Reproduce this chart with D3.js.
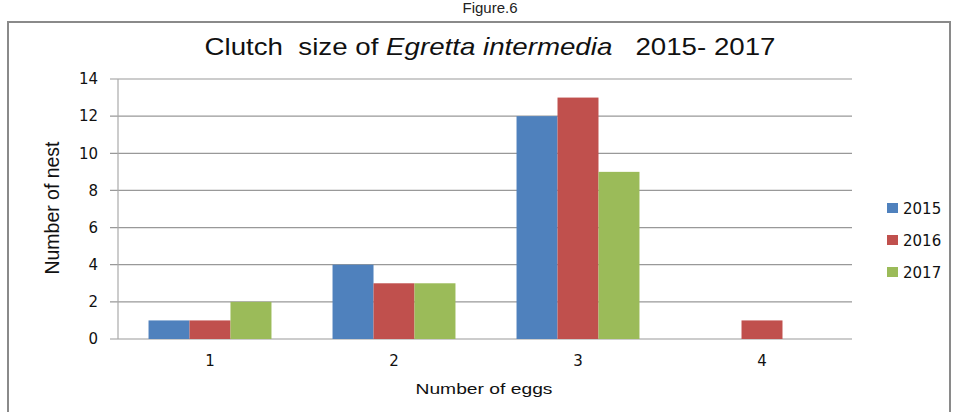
<!DOCTYPE html>
<html>
<head>
<meta charset="utf-8">
<script src="https://cdn.jsdelivr.net/npm/d3@7/dist/d3.min.js"></script>
<style>
  html, body { margin: 0; padding: 0; background: #fff; }
  svg { display: block; }
</style>
</head>
<body>
<svg id="chart" width="957" height="412"></svg>
<script>
// Clutch size counts per year
const categories = ["1", "2", "3", "4"];
const years = ["2015", "2016", "2017"];
const values2015 = [1, 4, 12, 0];
const values2016 = [1, 3, 13, 1];
const values2017 = [2, 3, 9, 0];
const yTicks = [0, 2, 4, 6, 8, 10, 12, 14];
const colors = ["#4F81BD", "#C0504D", "#9BBB59"];

const seriesValues = [values2015, values2016, values2017];

const svg = d3.select("#chart");
const plot = { left: 118, right: 854, top: 79, bottom: 339 };

// Outer frame and figure caption
svg.append("text")
  .attr("x", 490).attr("y", 13)
  .attr("text-anchor", "middle")
  .attr("font-family", "Liberation Sans, Arial, sans-serif")
  .attr("font-size", 15)
  .attr("fill", "#222")
  .text("Figure.6");

svg.append("rect")
  .attr("x", 8).attr("y", 22)
  .attr("width", 942).attr("height", 400)
  .attr("fill", "none")
  .attr("stroke", "#8a8a8a")
  .attr("stroke-width", 2);

const x0 = d3.scaleBand().domain(categories).range([plot.left, plot.right]).paddingInner(0).paddingOuter(0);
const x1 = d3.scaleBand().domain(years).range([0, x0.bandwidth()]).paddingInner(0).paddingOuter(0.745);
const y = d3.scaleLinear().domain([0, 14]).range([plot.bottom, plot.top]);

// Horizontal gridlines
svg.append("g")
  .selectAll("line")
  .data(yTicks)
  .join("line")
  .attr("x1", plot.left - 8).attr("x2", plot.right - 2)
  .attr("y1", d => y(d)).attr("y2", d => y(d))
  .attr("stroke", "#999")
  .attr("stroke-width", 1.2);

// Vertical axis line
svg.append("line")
  .attr("x1", plot.left).attr("x2", plot.left)
  .attr("y1", plot.top).attr("y2", plot.bottom)
  .attr("stroke", "#aaa").attr("stroke-width", 1.2);

// Y tick labels
const yAxis = d3.axisLeft(y).tickValues(yTicks).tickSize(0).tickPadding(20);
const gy = svg.append("g").attr("transform", `translate(${plot.left},0)`).call(yAxis);
gy.select(".domain").remove();
gy.selectAll("text")
  .attr("font-family", "DejaVu Sans, Verdana, sans-serif")
  .attr("font-size", 15)
  .attr("fill", "#111");

// X tick labels
const xAxis = d3.axisBottom(x0).tickSize(0).tickPadding(16);
const gx = svg.append("g").attr("transform", `translate(0,${plot.bottom})`).call(xAxis);
gx.select(".domain").remove();
gx.selectAll("text")
  .attr("font-family", "DejaVu Sans, Verdana, sans-serif")
  .attr("font-size", 15)
  .attr("fill", "#111");

// Bars
const groups = svg.append("g")
  .selectAll("g")
  .data(categories)
  .join("g")
  .attr("transform", d => `translate(${x0(d)},0)`);

groups.selectAll("rect")
  .data((c, i) => years.map((yr, s) => ({ yr, s, v: seriesValues[s][i] })))
  .join("rect")
  .attr("x", d => x1(d.yr))
  .attr("width", x1.bandwidth())
  .attr("y", d => y(d.v))
  .attr("height", d => y(0) - y(d.v))
  .attr("fill", d => colors[d.s]);

// Title
const title = svg.append("text")
  .attr("x", 490).attr("y", 55)
  .attr("text-anchor", "middle")
  .attr("font-family", "Liberation Sans, Arial, sans-serif")
  .attr("font-size", 24)
  .attr("fill", "#111")
  .attr("textLength", 571)
  .attr("lengthAdjust", "spacingAndGlyphs")
  .attr("xml:space", "preserve");
title.append("tspan").text("Clutch  size of ");
title.append("tspan").attr("font-style", "italic").text("Egretta intermedia");
title.append("tspan").text("   2015- 2017");

// Axis titles
svg.append("text")
  .attr("transform", "translate(59,208) rotate(-90)")
  .attr("text-anchor", "middle")
  .attr("font-family", "Liberation Sans Narrow, Arial Narrow, Liberation Sans, sans-serif")
  .attr("font-size", 20)
  .attr("fill", "#111")
  .attr("textLength", 133)
  .attr("lengthAdjust", "spacingAndGlyphs")
  .text("Number of nest");

svg.append("text")
  .attr("x", 484).attr("y", 394)
  .attr("text-anchor", "middle")
  .attr("font-family", "Liberation Sans, Arial, sans-serif")
  .attr("font-size", 15)
  .attr("fill", "#111")
  .attr("textLength", 137)
  .attr("lengthAdjust", "spacingAndGlyphs")
  .text("Number of eggs");

// Legend
const legend = svg.append("g")
  .selectAll("g")
  .data(years)
  .join("g")
  .attr("transform", (d, i) => `translate(887,${208 + i * 32})`);

legend.append("rect")
  .attr("x", 0).attr("y", -5)
  .attr("width", 11).attr("height", 10)
  .attr("fill", (d, i) => colors[i]);

legend.append("text")
  .attr("x", 16).attr("y", 5.5)
  .attr("font-family", "DejaVu Sans, Verdana, sans-serif")
  .attr("font-size", 15)
  .attr("fill", "#111")
  .text(d => d);
</script>
</body>
</html>
